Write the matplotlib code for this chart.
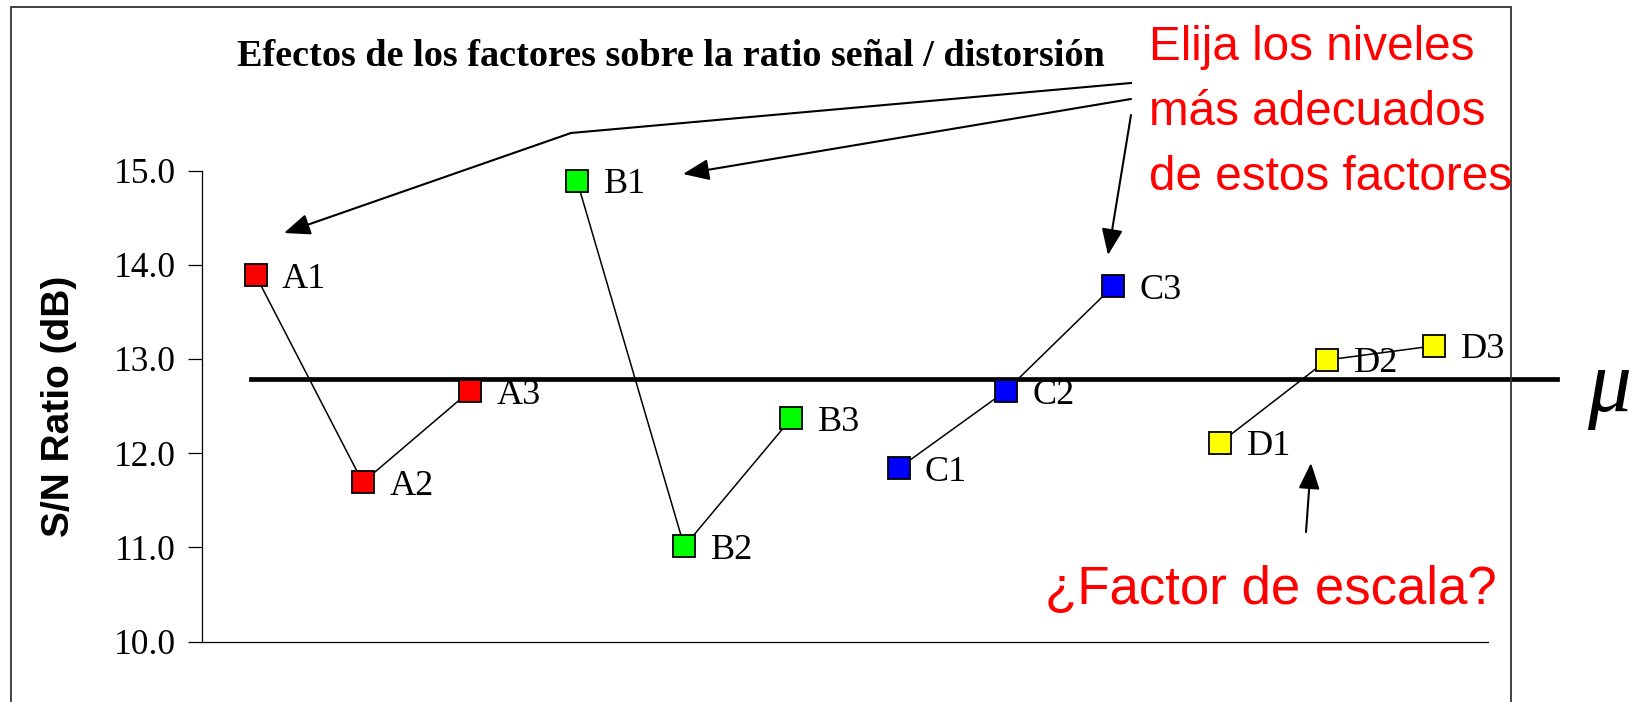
import matplotlib
matplotlib.use("Agg")
import matplotlib.pyplot as plt
from matplotlib.patches import FancyArrowPatch, Rectangle
from matplotlib.lines import Line2D

W, H = 1641, 702
SERIF = "Liberation Serif"
SANS = "Liberation Sans"

# -- data --
factors = ["A", "B", "C", "D"]
levels = ["1", "2", "3"]
sn_a = [13.89, 11.69, 12.66]
sn_b = [14.89, 11.01, 12.37]
sn_c = [11.84, 12.66, 13.77]
sn_d = [12.11, 12.99, 13.14]
colors = ["#FF0000", "#00FF00", "#0000FF", "#FFFF00"]
mu = 12.79
yticks = [10.0, 11.0, 12.0, 13.0, 14.0, 15.0]


def fx(px):
    return px / W


def fy(py):
    return 1 - py / H


fig = plt.figure(figsize=(W / 100, H / 100), dpi=100)
fig.patch.set_facecolor("white")
ax = fig.add_axes([fx(202), fy(641.6), fx(1488) - fx(202), fy(170.6) - fy(641.6)])

# outer frame
fig.add_artist(Rectangle((fx(11), -0.1), fx(1510.5) - fx(11), fy(7) + 0.1,
                         transform=fig.transFigure, fill=False,
                         edgecolor="#333333", lw=1.3))

series = [sn_a, sn_b, sn_c, sn_d]
for k, (f, vals, col) in enumerate(zip(factors, series, colors)):
    xs = [k * len(levels) + j for j in range(len(levels))]
    ax.plot(xs, vals, color="black", lw=1.1, zorder=2, clip_on=False)
    ax.plot(xs, vals, ls="none", marker="s", ms=15.5, mfc=col, mec="black",
            mew=1.3, zorder=3, clip_on=False)
    for x, v, lv in zip(xs, vals, levels):
        ax.annotate(f + lv, (x, v), xytext=(19, 0), textcoords="offset points",
                    ha="left", va="center_baseline", fontsize=26, family=SERIF,
                    zorder=4)

# overall mean
ax.axhline(mu, xmin=(251 - 202) / 1286, xmax=(1557 - 202) / 1286, color="black",
           lw=3.4, clip_on=False, zorder=1)
fig.text(fx(1609), fy(411), "\u03bc", fontsize=63, family=SERIF, style="italic",
         ha="center", va="baseline")

ax.set_xlim(-0.5, 4 * len(levels) - 0.5)
ax.set_ylim(10, 15)
ax.set_yticks(yticks)
ax.set_yticklabels([f"{t:.1f}" for t in yticks], fontsize=25.5, family=SERIF)
ax.set_xticks([])
ax.tick_params(axis="y", length=10, width=0.9, pad=9)
for s in ["top", "right"]:
    ax.spines[s].set_visible(False)
for s in ["left", "bottom"]:
    ax.spines[s].set_linewidth(0.9)
ax.set_ylabel("S/N Ratio (dB)", fontsize=28, family=SANS, fontweight="bold")
ax.yaxis.set_label_coords(-(202 - 77) / 1286, 0.5)

# title
fig.text(fx(671), fy(66), "Efectos de los factores sobre la ratio se\u00f1al / distorsi\u00f3n",
         fontsize=27.5, family=SERIF, fontweight="bold", ha="center", va="baseline")

# red notes
notes = ["Elija los niveles", "m\u00e1s adecuados", "de estos factores"]
for i, line in enumerate(notes):
    fig.text(fx(1149), fy(60 + i * 65), line, fontsize=34.3, family=SANS,
             color="#FF0000", ha="left", va="baseline")
fig.text(fx(1045), fy(604), "\u00bfFactor de escala?", fontsize=38, family=SANS,
         color="#FF0000", ha="left", va="baseline")

# arrows
def arrow(p0, p1):
    a = FancyArrowPatch((fx(p0[0]), fy(p0[1])), (fx(p1[0]), fy(p1[1])),
                        transform=fig.transFigure,
                        arrowstyle="-|>,head_length=16,head_width=6.5",
                        mutation_scale=1, lw=1.5, color="black",
                        shrinkA=0, shrinkB=0)
    fig.add_artist(a)

fig.add_artist(Line2D([fx(1131), fx(571)], [fy(83), fy(133)],
                      transform=fig.transFigure, color="black", lw=1.5))
arrow((571, 133), (284, 233))
arrow((1131, 99), (683, 174))
arrow((1131, 115), (1108, 255))
arrow((1306, 532), (1311, 463))

fig.savefig("out.png", dpi=100)
